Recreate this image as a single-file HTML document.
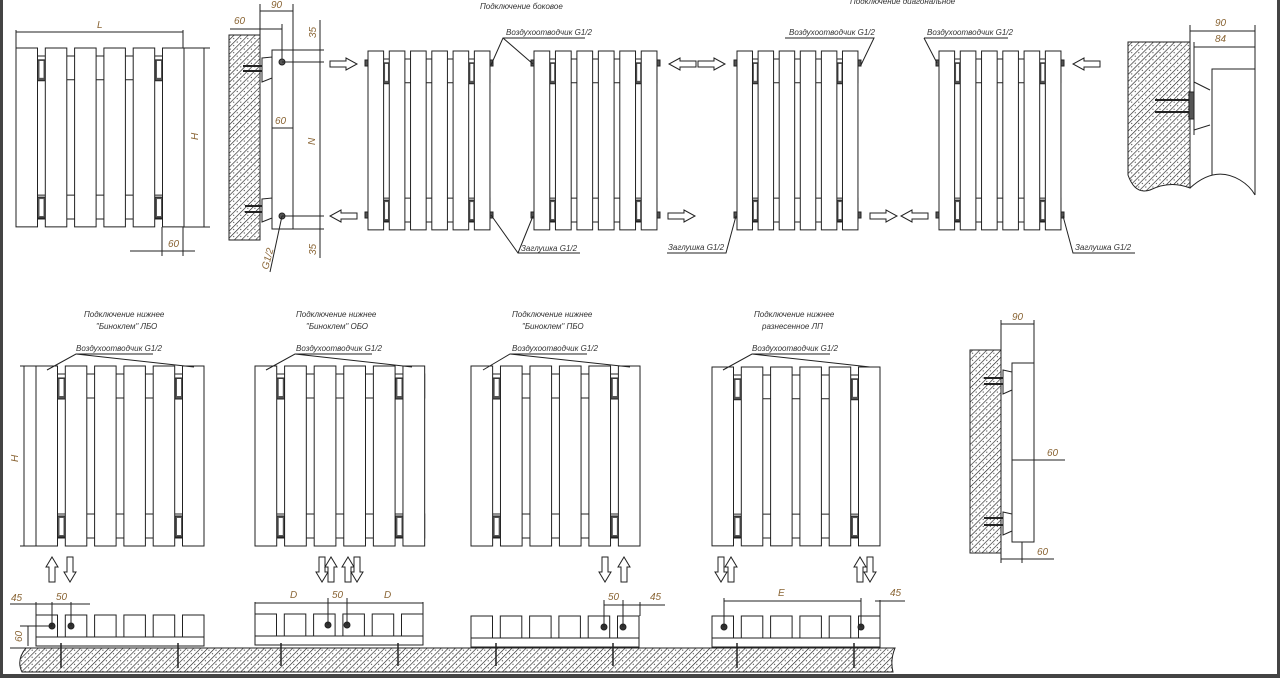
<!DOCTYPE html>
<html><head><meta charset="utf-8"><style>
html,body{margin:0;padding:0;background:#fff}
svg{display:block}
text{font-family:"Liberation Sans","DejaVu Sans",sans-serif;font-style:italic}
.t{font-size:8px;fill:#333}
.d{font-size:10px;fill:#8a6535}
</style></head><body>
<svg width="1280" height="678" viewBox="0 0 1280 678" xmlns="http://www.w3.org/2000/svg">
<defs>
<pattern id="h" width="5" height="5" patternUnits="userSpaceOnUse" patternTransform="rotate(45)">
<rect width="5" height="5" fill="#fff"/><line x1="0" y1="0" x2="0" y2="5" stroke="#222" stroke-width="1.3"/><circle cx="2.5" cy="2" r="0.6" fill="#444"/>
</pattern>
<g id="rad" fill="#fff" stroke="#222" stroke-width="1">
<rect x="0" y="8" width="168" height="24" vector-effect="non-scaling-stroke"/>
<rect x="0" y="148" width="168" height="24" vector-effect="non-scaling-stroke"/>
<rect x="21.5" y="12" width="7.8" height="21" fill="#555" vector-effect="non-scaling-stroke"/>
<rect x="23.5" y="13" width="4" height="17" fill="#fff" stroke="none"/>
<rect x="139" y="12" width="7.8" height="21" fill="#555" vector-effect="non-scaling-stroke"/>
<rect x="141" y="13" width="4" height="17" fill="#fff" stroke="none"/>
<rect x="21.5" y="150" width="7.8" height="21" fill="#555" vector-effect="non-scaling-stroke"/>
<rect x="23.5" y="152" width="4" height="17" fill="#fff" stroke="none"/>
<rect x="139" y="150" width="7.8" height="21" fill="#555" vector-effect="non-scaling-stroke"/>
<rect x="141" y="152" width="4" height="17" fill="#fff" stroke="none"/>
<rect x="0" y="0" width="21.5" height="180" vector-effect="non-scaling-stroke"/>
<rect x="29.3" y="0" width="21.5" height="180" vector-effect="non-scaling-stroke"/>
<rect x="58.6" y="0" width="21.5" height="180" vector-effect="non-scaling-stroke"/>
<rect x="87.9" y="0" width="21.5" height="180" vector-effect="non-scaling-stroke"/>
<rect x="117.2" y="0" width="21.5" height="180" vector-effect="non-scaling-stroke"/>
<rect x="146.5" y="0" width="21.5" height="180" vector-effect="non-scaling-stroke"/>
</g>
<polygon id="ar" points="0,-3 16,-3 16,-6 27,0 16,6 16,3 0,3" fill="#fff" stroke="#222"/>
<polygon id="au" points="-3,25 -3,10 -6,10 0,0 6,10 3,10 3,25" fill="#fff" stroke="#222"/>
<g id="plan" fill="#fff" stroke="#222">
<rect x="0" y="22" width="168" height="9"/>
<rect x="0" y="0" width="21.5" height="22"/><rect x="29.3" y="0" width="21.5" height="22"/>
<rect x="58.6" y="0" width="21.5" height="22"/><rect x="87.9" y="0" width="21.5" height="22"/>
<rect x="117.2" y="0" width="21.5" height="22"/><rect x="146.5" y="0" width="21.5" height="22"/>
</g>
</defs>
<rect width="1280" height="678" fill="#fff"/>
<rect x="0" y="0" width="3" height="678" fill="#444"/>
<rect x="1277" y="0" width="3" height="678" fill="#444"/>
<rect x="0" y="674" width="1280" height="4" fill="#444"/>

<g stroke="#222" fill="none">
<!-- R1 -->
<use href="#rad" transform="translate(16,48) scale(1,0.994)"/>
<line x1="16" y1="30" x2="16" y2="48"/><line x1="183" y1="30" x2="183" y2="48"/>
<line x1="16" y1="32" x2="183" y2="32"/>
<line x1="183" y1="48" x2="210" y2="48"/><line x1="183" y1="227" x2="210" y2="227"/>
<line x1="204" y1="48" x2="204" y2="227"/>
<line x1="162" y1="227" x2="162" y2="256"/><line x1="183" y1="227" x2="183" y2="256"/>
<line x1="130" y1="251" x2="195" y2="251"/>
<!-- side view -->
<rect x="229" y="35" width="31" height="205" fill="url(#h)"/>
<rect x="272" y="50" width="21" height="179" fill="#fff"/>
<line x1="293" y1="4" x2="293" y2="229"/><line x1="260" y1="4" x2="260" y2="35"/>
<line x1="260" y1="11" x2="293" y2="11"/>
<line x1="282" y1="24" x2="282" y2="62"/><line x1="230" y1="29" x2="282" y2="29"/>
<line x1="272" y1="128" x2="293" y2="128"/>
<polygon points="262,58 272,57 272,78 262,82" fill="#fff"/>
<polygon points="262,199 272,198 272,218 262,222" fill="#fff"/>
<line x1="243" y1="66" x2="262" y2="66" stroke-width="2"/><line x1="243" y1="71" x2="262" y2="71" stroke-width="2"/>
<line x1="245" y1="206" x2="262" y2="206" stroke-width="2"/><line x1="245" y1="212" x2="262" y2="212" stroke-width="2"/>
<circle cx="282" cy="62" r="3" fill="#555"/><circle cx="282" cy="216" r="3" fill="#555"/>
<line x1="293" y1="50" x2="324" y2="50"/><line x1="282" y1="62" x2="324" y2="62"/>
<line x1="282" y1="216" x2="324" y2="216"/><line x1="293" y1="229" x2="324" y2="229"/>
<line x1="320" y1="20" x2="320" y2="258"/>
<line x1="282" y1="216" x2="270" y2="272"/>
<!-- top row radiators -->
<use href="#rad" transform="translate(368,51) scale(0.726,0.994)"/>
<use href="#rad" transform="translate(534,51) scale(0.732,0.994)"/>
<use href="#rad" transform="translate(737,51) scale(0.72,0.994)"/>
<use href="#rad" transform="translate(939,51) scale(0.726,0.994)"/>
<g fill="#555">
<rect x="365" y="60" width="3" height="6"/><rect x="365" y="212" width="3" height="6"/>
<rect x="490" y="60" width="3" height="6"/><rect x="490" y="212" width="3" height="6"/>
<rect x="531" y="60" width="3" height="6"/><rect x="531" y="212" width="3" height="6"/>
<rect x="657" y="60" width="3" height="6"/><rect x="657" y="212" width="3" height="6"/>
<rect x="734" y="60" width="3" height="6"/><rect x="734" y="212" width="3" height="6"/>
<rect x="858" y="60" width="3" height="6"/><rect x="858" y="212" width="3" height="6"/>
<rect x="936" y="60" width="3" height="6"/><rect x="936" y="212" width="3" height="6"/>
<rect x="1061" y="60" width="3" height="6"/><rect x="1061" y="212" width="3" height="6"/>
</g>
<polyline points="585,38 503,38 491,65"/><line x1="503" y1="38" x2="533" y2="64"/>
<polyline points="580,253 518,253 491,215"/><line x1="518" y1="253" x2="533" y2="216"/>
<polyline points="785,38 874,38 861,65"/>
<polyline points="924,38 1008,38"/><line x1="924" y1="38" x2="937" y2="63"/>
<polyline points="667,253 726,253 736,216"/>
<polyline points="1135,253 1073,253 1063,216"/>
<use href="#ar" transform="translate(330,64)"/>
<use href="#ar" transform="translate(357,216) scale(-1,1)"/>
<use href="#ar" transform="translate(696,64) scale(-1,1)"/>
<use href="#ar" transform="translate(698,64)"/>
<use href="#ar" transform="translate(668,216)"/>
<use href="#ar" transform="translate(870,216)"/>
<use href="#ar" transform="translate(928,216) scale(-1,1)"/>
<use href="#ar" transform="translate(1100,64) scale(-1,1)"/>
<!-- right top wall detail -->
<path d="M1128,42 L1190,42 L1190,188 Q1170,180 1150,190 Q1135,195 1128,175 Z" fill="url(#h)"/>
<line x1="1190" y1="25" x2="1190" y2="188"/><line x1="1255" y1="25" x2="1255" y2="195"/>
<line x1="1190" y1="31" x2="1255" y2="31"/><line x1="1194" y1="47" x2="1255" y2="47"/>
<line x1="1194" y1="42" x2="1194" y2="135"/>
<polyline points="1255,69 1212,69 1212,175"/>
<path d="M1190,188 Q1215,165 1240,180 Q1250,186 1255,195"/>
<line x1="1194" y1="82" x2="1210" y2="90"/><line x1="1194" y1="130" x2="1210" y2="125"/>
<line x1="1155" y1="100" x2="1194" y2="100" stroke-width="2"/><line x1="1155" y1="112" x2="1194" y2="112" stroke-width="2"/>
<rect x="1189" y="92" width="5" height="27" fill="#555"/>

<!-- bottom row -->
<use href="#rad" transform="translate(36,366)"/>
<use href="#rad" transform="translate(255,366) scale(1.01,1)"/>
<use href="#rad" transform="translate(471,366) scale(1.006,1)"/>
<use href="#rad" transform="translate(712,367) scale(1,0.994)"/>
<line x1="20" y1="366" x2="36" y2="366"/><line x1="20" y1="546" x2="36" y2="546"/>
<line x1="24" y1="366" x2="24" y2="546"/>
<polyline points="153,354 76,354 47,370"/><line x1="76" y1="354" x2="194" y2="367"/>
<polyline points="372,354 295,354 266,370"/><line x1="295" y1="354" x2="412" y2="367"/>
<polyline points="587,354 510,354 483,370"/><line x1="510" y1="354" x2="630" y2="367"/>
<polyline points="830,354 752,354 723,370"/><line x1="752" y1="354" x2="870" y2="367"/>
<use href="#au" transform="translate(52,557)"/>
<use href="#au" transform="translate(70,582) scale(1,-1)"/>
<use href="#au" transform="translate(322,582) scale(1,-1)"/>
<use href="#au" transform="translate(331,557)"/>
<use href="#au" transform="translate(348,557)"/>
<use href="#au" transform="translate(357,582) scale(1,-1)"/>
<use href="#au" transform="translate(605,582) scale(1,-1)"/>
<use href="#au" transform="translate(624,557)"/>
<use href="#au" transform="translate(721,582) scale(1,-1)"/>
<use href="#au" transform="translate(731,557)"/>
<use href="#au" transform="translate(860,557)"/>
<use href="#au" transform="translate(870,582) scale(1,-1)"/>
<path d="M26,648 L895,648 Q890,660 893,672 L22,672 Q16,660 26,648 Z" fill="url(#h)"/>
<line x1="10" y1="648" x2="895" y2="648"/>
<use href="#plan" transform="translate(36,615)"/>
<use href="#plan" transform="translate(255,614)"/>
<use href="#plan" transform="translate(471,616)"/>
<use href="#plan" transform="translate(712,616)"/>
<g stroke-width="1.5">
<line x1="61" y1="643" x2="61" y2="668"/><line x1="178" y1="643" x2="178" y2="668"/>
<line x1="281" y1="643" x2="281" y2="666"/><line x1="398" y1="643" x2="398" y2="666"/>
<line x1="496" y1="643" x2="496" y2="666"/><line x1="613" y1="643" x2="613" y2="666"/>
<line x1="737" y1="643" x2="737" y2="668"/><line x1="854" y1="643" x2="854" y2="668"/>
</g>
<g fill="#333">
<circle cx="52" cy="626" r="3"/><circle cx="71" cy="626" r="3"/>
<circle cx="328" cy="625" r="3"/><circle cx="347" cy="625" r="3"/>
<circle cx="604" cy="627" r="3"/><circle cx="623" cy="627" r="3"/>
<circle cx="724" cy="627" r="3"/><circle cx="861" cy="627" r="3"/>
</g>
<line x1="36" y1="602" x2="36" y2="615"/><line x1="52" y1="602" x2="52" y2="626"/><line x1="71" y1="602" x2="71" y2="626"/>
<line x1="10" y1="604" x2="90" y2="604"/>
<line x1="20" y1="626" x2="52" y2="626"/><line x1="28" y1="626" x2="28" y2="646"/>
<line x1="255" y1="602" x2="255" y2="614"/><line x1="328" y1="598" x2="328" y2="625"/><line x1="347" y1="598" x2="347" y2="625"/><line x1="423" y1="602" x2="423" y2="614"/>
<line x1="255" y1="603" x2="423" y2="603"/>
<line x1="604" y1="600" x2="604" y2="627"/><line x1="623" y1="600" x2="623" y2="627"/><line x1="640" y1="602" x2="640" y2="616"/>
<line x1="604" y1="605" x2="665" y2="605"/>
<line x1="724" y1="598" x2="724" y2="627"/><line x1="861" y1="598" x2="861" y2="627"/><line x1="880" y1="600" x2="880" y2="616"/>
<line x1="724" y1="601" x2="861" y2="601"/><line x1="875" y1="601" x2="905" y2="601"/>
<rect x="970" y="350" width="31" height="203" fill="url(#h)"/>
<line x1="1001" y1="320" x2="1001" y2="563"/><line x1="1034" y1="320" x2="1034" y2="363"/>
<line x1="1001" y1="324" x2="1034" y2="324"/>
<rect x="1012" y="363" width="22" height="179" fill="#fff"/>
<line x1="1012" y1="460" x2="1065" y2="460"/>
<polygon points="1003,370 1012,372 1012,390 1003,394" fill="#fff"/>
<polygon points="1003,512 1012,514 1012,531 1003,535" fill="#fff"/>
<line x1="984" y1="378" x2="1003" y2="378" stroke-width="2"/><line x1="984" y1="384" x2="1003" y2="384" stroke-width="2"/>
<line x1="984" y1="518" x2="1003" y2="518" stroke-width="2"/><line x1="984" y1="525" x2="1003" y2="525" stroke-width="2"/>
<line x1="1022" y1="542" x2="1022" y2="563"/><line x1="1001" y1="559" x2="1054" y2="559"/>
</g>

<text class="t" x="480" y="9">Подключение боковое</text>
<text class="t" x="850" y="4">Подключение диагональное</text>
<text class="t" x="506" y="35">Воздухоотводчик G1/2</text>
<text class="t" x="521" y="251">Заглушка G1/2</text>
<text class="t" x="789" y="35">Воздухоотводчик G1/2</text>
<text class="t" x="927" y="35">Воздухоотводчик G1/2</text>
<text class="t" x="668" y="250">Заглушка G1/2</text>
<text class="t" x="1075" y="250">Заглушка G1/2</text>
<text class="t" x="84" y="317">Подключение нижнее</text>
<text class="t" x="96" y="329">"Биноклем" ЛБО</text>
<text class="t" x="296" y="317">Подключение нижнее</text>
<text class="t" x="306" y="329">"Биноклем" ОБО</text>
<text class="t" x="512" y="317">Подключение нижнее</text>
<text class="t" x="522" y="329">"Биноклем" ПБО</text>
<text class="t" x="754" y="317">Подключение нижнее</text>
<text class="t" x="762" y="329">разнесенное ЛП</text>
<text class="t" x="76" y="351">Воздухоотводчик G1/2</text>
<text class="t" x="296" y="351">Воздухоотводчик G1/2</text>
<text class="t" x="512" y="351">Воздухоотводчик G1/2</text>
<text class="t" x="752" y="351">Воздухоотводчик G1/2</text>
<text class="d" x="97" y="28">L</text>
<text class="d" x="168" y="247">60</text>
<text class="d" x="234" y="24">60</text>
<text class="d" x="271" y="8">90</text>
<text class="d" x="275" y="124">60</text>
<text class="d" transform="translate(198,140) rotate(-90)">H</text>
<text class="d" transform="translate(315,145) rotate(-90)">N</text>
<text class="d" transform="translate(316,38) rotate(-90)">35</text>
<text class="d" transform="translate(316,255) rotate(-90)">35</text>
<text class="d" transform="translate(268,270) rotate(-75)">G1/2</text>
<text class="d" x="1215" y="26">90</text>
<text class="d" x="1215" y="42">84</text>
<text class="d" transform="translate(18,462) rotate(-90)">H</text>
<text class="d" x="11" y="601">45</text>
<text class="d" x="56" y="600">50</text>
<text class="d" transform="translate(22,642) rotate(-90)">60</text>
<text class="d" x="290" y="598">D</text>
<text class="d" x="332" y="598">50</text>
<text class="d" x="384" y="598">D</text>
<text class="d" x="608" y="600">50</text>
<text class="d" x="650" y="600">45</text>
<text class="d" x="778" y="596">E</text>
<text class="d" x="890" y="596">45</text>
<text class="d" x="1012" y="320">90</text>
<text class="d" x="1047" y="456">60</text>
<text class="d" x="1037" y="555">60</text>
</svg>
</body></html>
